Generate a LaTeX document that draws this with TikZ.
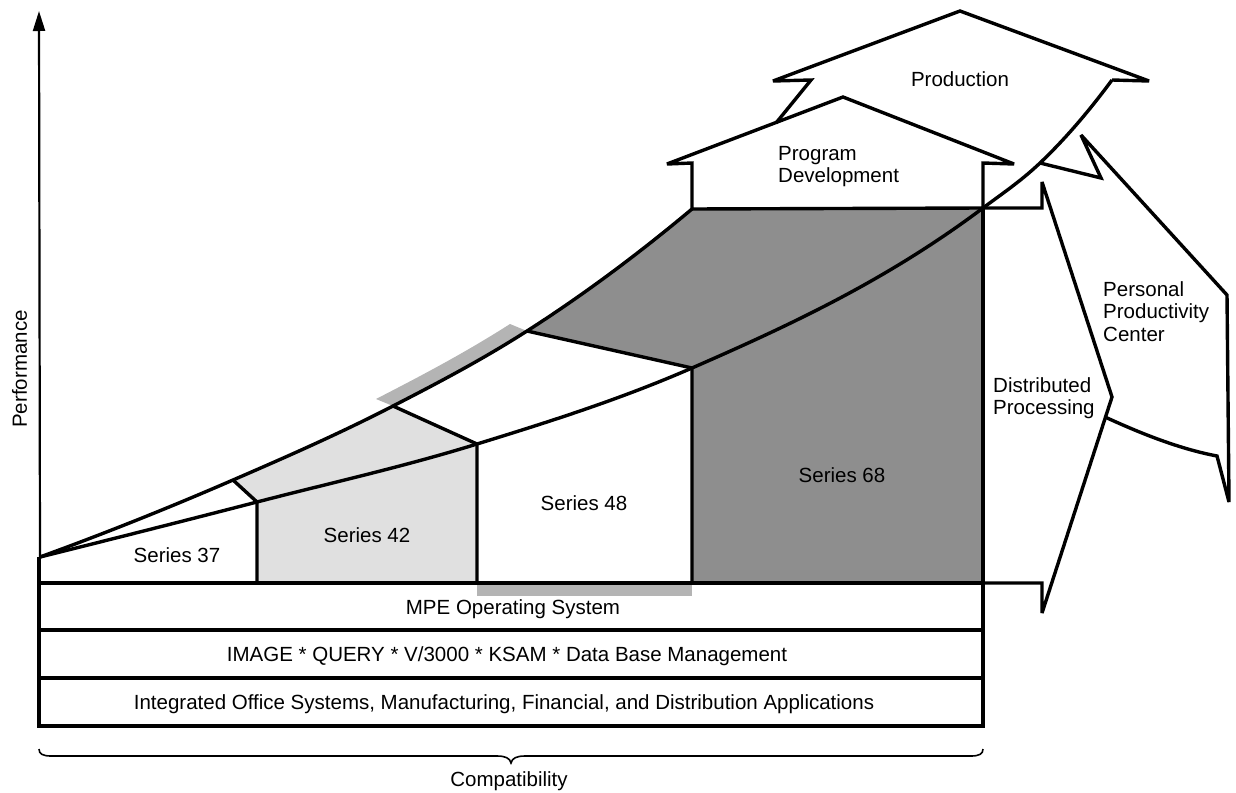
\documentclass[tikz,border=0pt]{standalone}
\usepackage{fontspec}
\setmainfont{Liberation Sans}
\usetikzlibrary{arrows.meta}
\definecolor{darkfill}{HTML}{8E8E8E}
\definecolor{lightfill}{HTML}{E0E0E0}
\definecolor{shadowfill}{HTML}{B4B4B4}
\begin{document}
\begin{tikzpicture}[x=1pt,y=-1pt,
  outline/.style={line width=3.4pt, line join=miter, miter limit=5},
  axisline/.style={line width=2.2pt},
  bracestyle/.style={line width=1.6pt},
  lbl/.style={font=\fontsize{20.5}{22.5}\selectfont, inner sep=0pt},
  multilbl/.style={lbl, align=left, anchor=north west}]
\useasboundingbox (0,0) rectangle (1236,792);
% key points
\coordinate (b0) at (40,557);
\coordinate (b1) at (257,502);
\coordinate (b2) at (477,444);
\coordinate (b3) at (692,368);
\coordinate (b4) at (983,208);
\coordinate (b5) at (1040,163);
\coordinate (b6) at (1112,80);
\coordinate (a1) at (233,480);
\coordinate (a2) at (393,406);
\coordinate (a3) at (527,331);
\coordinate (a4) at (692,209);
% fills
\fill[darkfill] (a3) .. controls (582,295.8) and (637,255.1) .. (a4) -- (983,208) -- (983,583) -- (692,583) -- (b3) -- cycle;
\fill[lightfill] (a1) .. controls (286.3,456.9) and (339.7,433.5) .. (a2) -- (b2) -- (477,583) -- (257,583) -- (b1) -- cycle;
\fill[shadowfill] (a2) .. controls (437.7,383) and (482.3,359.6) .. (a3) -- (510,324) .. controls (465.3,352.6) and (420.7,376) .. (376,399) -- cycle;
\fill[shadowfill] (477,583) rectangle (692,596);
% axis
\draw[axisline, -{Triangle[length=20pt,width=12pt]}] (b0) -- (39,11) coordinate (axtop);
% curves
\draw[outline] (b0) .. controls (112.3,539) and (184.7,520.7) .. (b1)
  .. controls (330.3,483) and (403.7,466.7) .. (b2)
  .. controls (548.7,421.9) and (620.3,399.3) .. (b3)
  .. controls (789,325.6) and (886,280.75) .. (b4)
  .. controls (1002,193.75) and (1021,181.05) .. (b5)
  .. controls (1064,140.2) and (1088,112.5) .. (b6);
\draw[outline] (b0) .. controls (104.3,533.6) and (168.7,507.9) .. (a1)
  .. controls (286.3,456.9) and (339.7,433.5) .. (a2)
  .. controls (437.7,383) and (482.3,359.6) .. (a3)
  .. controls (582,295.8) and (637,255.1) .. (a4);
\draw[outline] (a1) -- (b1) -- (257,583);
\draw[outline] (a2) -- (b2) -- (477,583);
\draw[outline] (a3) -- (b3) -- (692,583);
% boxes
\draw[outline] (39,557) -- (39,726) -- (983,726) -- (983,208);
\draw[outline] (39,583) -- (983,583);
\draw[outline] (39,630) -- (983,630);
\draw[outline] (39,678) -- (983,678);
% Program Development arrow
\draw[outline] (a4) -- (692,163) -- (667,164) -- (843,97) -- (1014,164) -- (983,163) -- (b4) -- cycle;
% Production arrow
\draw[outline] (776,123) -- (811,80) -- (773,81) -- (960,11) -- (1149,81) -- (b6);
% Distributed Processing arrow
\draw[outline] (b4) -- (1042,208) -- (1042,182) -- (1112,397) -- (1042,613) -- (1042,583) -- (983,583);
% Personal Productivity Center arrow
\draw[outline] (b5) -- (1101,178) -- (1081,135) -- (1227,295) -- (1229,502) -- (1217,456)
  .. controls (1180,449) and (1142,434) .. (1105,417);
% brace
\draw[bracestyle] (39,749) .. controls (39,754) and (43,756) .. (51,756) -- (497,756)
  .. controls (505,756) and (510,758) .. (511,763)
  .. controls (512,758) and (517,756) .. (525,756) -- (971,756)
  .. controls (979,756) and (983,754) .. (983,749);
% labels
\node[lbl, anchor=base] (s37) at (177,562) {Series 37};
\node[lbl, anchor=base] (s42) at (367,542) {Series 42};
\node[lbl, anchor=base] (s48) at (584,510) {Series 48};
\node[lbl, anchor=base] (s68) at (842,482) {Series 68};
\node[lbl, anchor=base] (mpe) at (513,614) {MPE Operating System};
\node[lbl, anchor=base] (dbm) at (507,661.5) {IMAGE * QUERY * V/3000 * KSAM * Data Base Management};
\node[lbl, anchor=base] (apps) at (504,709) {Integrated Office Systems, Manufacturing, Financial, and Distribution Applications};
\node[lbl, anchor=base] (compat) at (509,786) {Compatibility};
\node[lbl, anchor=base, rotate=90] (perf) at (27,369) {Performance};
\node[lbl, anchor=base] (prod) at (960,86) {Production};
\node[multilbl] (pd) at (778,146) {Program\\Development};
\node[multilbl] (dp) at (993,377) {Distributed\\Processing};
\node[multilbl] (ppc) at (1103,281) {Personal\\Productivity\\Center};
\end{tikzpicture}
\end{document}
